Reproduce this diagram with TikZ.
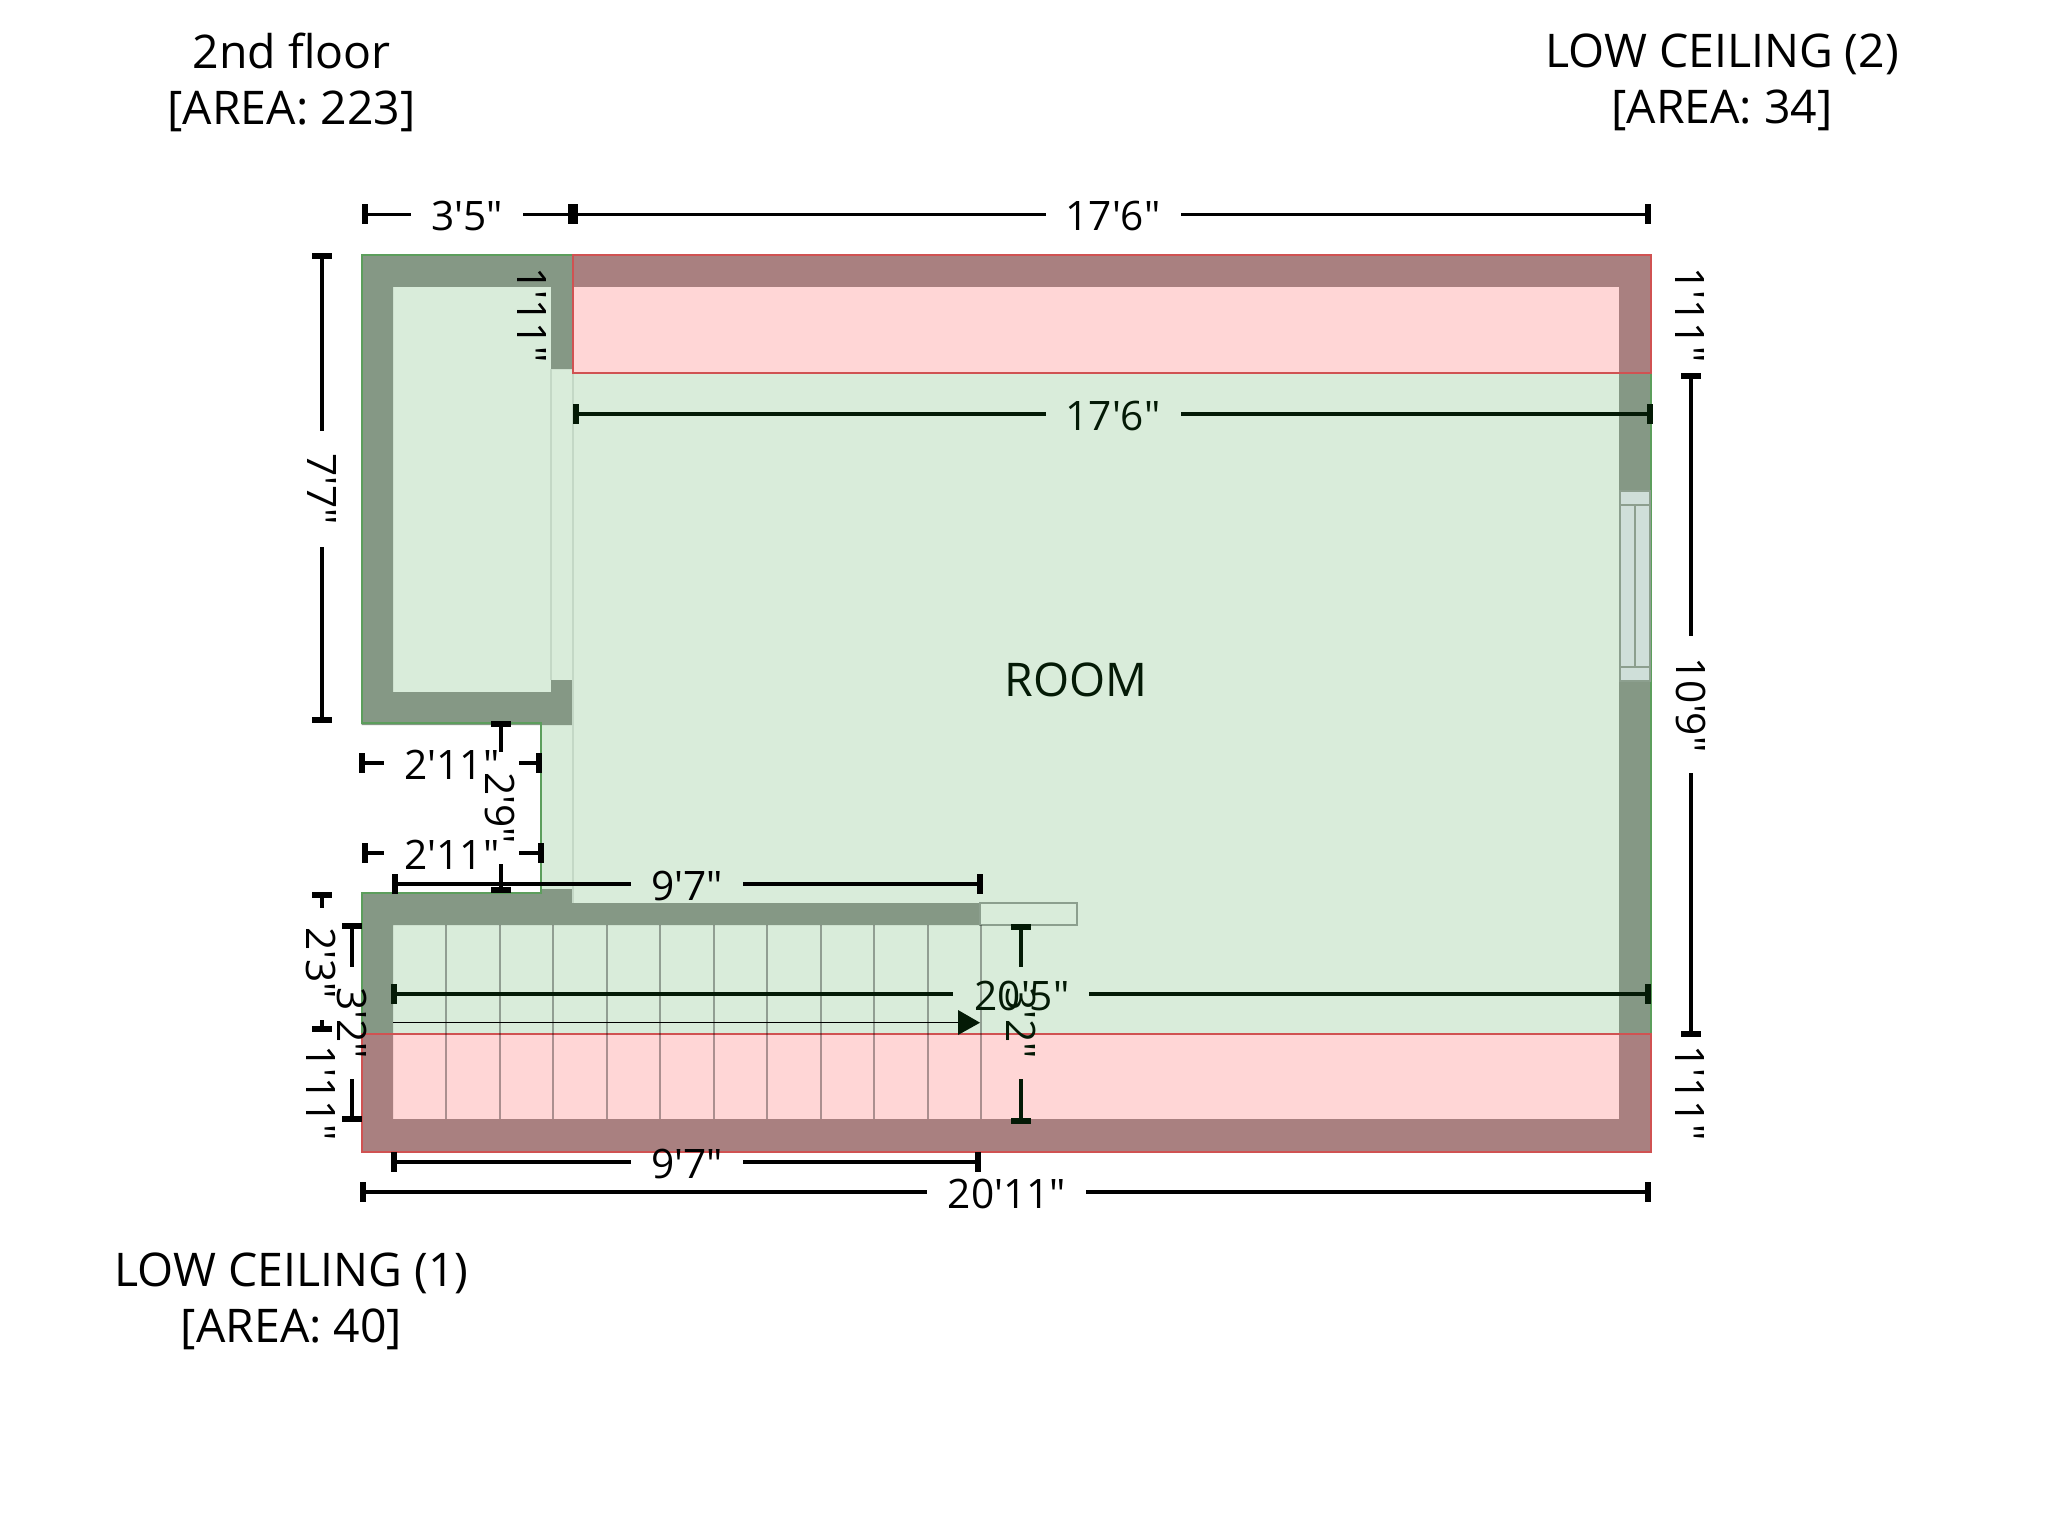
\documentclass[tikz,border=0pt]{standalone}
\usepackage{fontspec}
\newfontfamily\plainsans{Open Sans}
\usetikzlibrary{arrows.meta}
\definecolor{roomgreen}{HTML}{D9ECDA}
\definecolor{wallgreen}{HTML}{859885}
\definecolor{lowred}{HTML}{FFD6D6}
\definecolor{wallred}{HTML}{A98080}
\definecolor{edgegreen}{HTML}{5C9E5C}
\definecolor{edgered}{HTML}{D05252}
\definecolor{faintline}{HTML}{C4D8C6}
\definecolor{glassfill}{HTML}{CFDFD9}
\definecolor{framegrey}{HTML}{8C9F8E}
\definecolor{inkdark}{HTML}{041A06}
\tikzset{
  x=0.5pt,y=-0.5pt,
  dimtick/.style={{Rectangle[width=10pt,length=3pt]}-},
  dimline/.style={line width=1.75pt},
  dimlabel/.style={inner sep=0pt,font=\plainsans\fontsize{20.3}{24}\selectfont},
  vlabel/.style={dimlabel,rotate=-90},
  title/.style={inner sep=0pt,align=center,font=\plainsans\fontsize{23.2}{28}\selectfont},
  treadline/.style={line width=1pt,black,opacity=0.33},
}
% horizontal dimension: y, x1, gapstart, gapend, x2
\newcommand{\hdimen}[6][black]{%
  \draw[dimline,dimtick,#1] (#3,#2) -- (#4,#2);
  \draw[dimline,dimtick,#1] (#6,#2) -- (#5,#2);}
% vertical dimension: x, y1, gapstart, gapend, y2
\newcommand{\vdimen}[6][black]{%
  \draw[dimline,dimtick,#1] (#2,#3) -- (#2,#4);
  \draw[dimline,dimtick,#1] (#2,#6) -- (#2,#5);}
\begin{document}
\begin{tikzpicture}
\useasboundingbox (0,0) rectangle (2048,1535);
% floor
\fill[roomgreen] (361.5,255) rectangle (1651,1151.5);
\fill[white] (361.5,723) rectangle (541,893);
% walls
\fill[wallgreen] (361.5,255) -- (573,255) -- (573,369) -- (551,369) -- (551,287) -- (393,287)
  -- (393,692) -- (551,692) -- (551,680) -- (573,680) -- (573,725) -- (361.5,725) -- cycle;
\fill[wallgreen] (361.5,893) -- (541,893) -- (541,889) -- (573,889) -- (573,903) -- (980,903)
  -- (980,925) -- (393,925) -- (393,1034) -- (361.5,1034) -- cycle;
\fill[wallgreen] (1619,373) rectangle (1651,1034);
% faint door jambs
\draw[faintline,line width=0.6pt] (551,369) -- (551,680);
\draw[faintline,line width=0.6pt] (573,369) -- (573,903);
% low ceilings
\fill[lowred] (573,255) rectangle (1651,373);
\fill[wallred] (573,255) -- (1651,255) -- (1651,373) -- (1619,373) -- (1619,287) -- (573,287) -- cycle;
\fill[lowred] (361.5,1034) rectangle (1651,1151.5);
\fill[wallred] (361.5,1034) -- (393,1034) -- (393,1119) -- (1619,1119) -- (1619,1034) -- (1651,1034)
  -- (1651,1151.5) -- (361.5,1151.5) -- cycle;
% green outline
\draw[edgegreen,line width=1pt] (573,255) -- (361.5,255) -- (361.5,723) -- (541,723) -- (541,893)
  -- (361.5,893) -- (361.5,1034);
\draw[edgegreen,line width=1pt] (1651,373) -- (1651,1034);
% red outline
\draw[edgered,line width=1pt] (573,255) rectangle (1651,373);
\draw[edgered,line width=1pt] (361.5,1034) rectangle (1651,1151.5);
% landing door
\draw[framegrey,fill=roomgreen,line width=1pt] (980,903) rectangle (1077,925);
% window
\draw[framegrey,fill=glassfill,line width=0.9pt] (1620,491) rectangle (1650,681);
\draw[framegrey,line width=0.9pt] (1620,505) -- (1650,505) (1620,667) -- (1650,667) (1635,505) -- (1635,667);
% stair treads
\foreach \k in {1,...,11} {\draw[treadline] ({393+53.45*\k},925) -- ({393+53.45*\k},1119);}
% stair arrow
\draw[black,line width=0.75pt] (393,1022.7) -- (960,1022.7);
\fill[inkdark] (958,1010) -- (980,1022.7) -- (958,1035) -- cycle;
% dimensions
\hdimen{214.5}{362}{411}{523}{578}
\hdimen{214.5}{568}{1046}{1181}{1651}
\node[dimlabel] (topa) at (467,216) {3'5"};
\node[dimlabel] (topb) at (1113,216) {17'6"};
\hdimen[inkdark]{414}{573}{1046}{1181}{1653}
\node[dimlabel,inkdark] (inner) at (1113,415.5) {17'6"};
\vdimen{322}{253}{431}{547}{723}
\node[vlabel] (leftup) at (322,489) {7'7"};
\hdimen{763}{359}{384}{519}{542}
\node[dimlabel] (gapa) at (452,764.5) {2'11"};
\hdimen{853}{362}{384}{519}{544}
\node[dimlabel] (gapb) at (452,854.5) {2'11"};
\vdimen{501}{721}{752}{864}{893}
\node[vlabel] (gapc) at (500,808) {2'9"};
\hdimen{884}{392}{631}{743}{983}
\node[dimlabel] (stairtop) at (687,885.5) {9'7"};
\hdimen{1162}{391}{631}{743}{981}
\node[dimlabel] (stairbot) at (687,1163.5) {9'7"};
\hdimen{1192}{360}{927}{1086}{1651}
\node[dimlabel] (wide) at (1007,1193.5) {20'11"};
\hdimen[inkdark]{994}{391}{953}{1089}{1651}
\node[dimlabel,inkdark] (wideinner) at (1022,995.5) {20'5"};
\vdimen[inkdark]{1021}{924}{967}{1079}{1124}
\node[vlabel,inkdark] (stairh) at (1021,1023) {3'2"};
\vdimen{352}{923}{967}{1079}{1122}
\node[vlabel] (stairl) at (352,1023) {3'2"};
\vdimen{322}{892}{908}{1020}{1032}
\node[vlabel] (lefta) at (321,963) {2'3"};
\node[vlabel] (leftb) at (321,1093) {1'11"};
\node[vlabel] (topleft) at (532,315) {1'11"};
\node[vlabel] (righta) at (1690,315) {1'11"};
\node[vlabel] (rightb) at (1690,1093) {1'11"};
\vdimen{1691}{373}{636}{773}{1037}
\node[vlabel] (rightdim) at (1691,705) {10'9"};
% labels
\node[title] (floor) at (291.5,82) {2nd floor\\{}[AREA: 223]};
\node[title] (lowtwo) at (1722,82.5) {LOW CEILING (2)\\{}[AREA: 34]};
\node[title] (lowone) at (291.5,1301) {LOW CEILING (1)\\{}[AREA: 40]};
\node[title,inkdark] (room) at (1076,680) {ROOM};
\end{tikzpicture}
\end{document}
